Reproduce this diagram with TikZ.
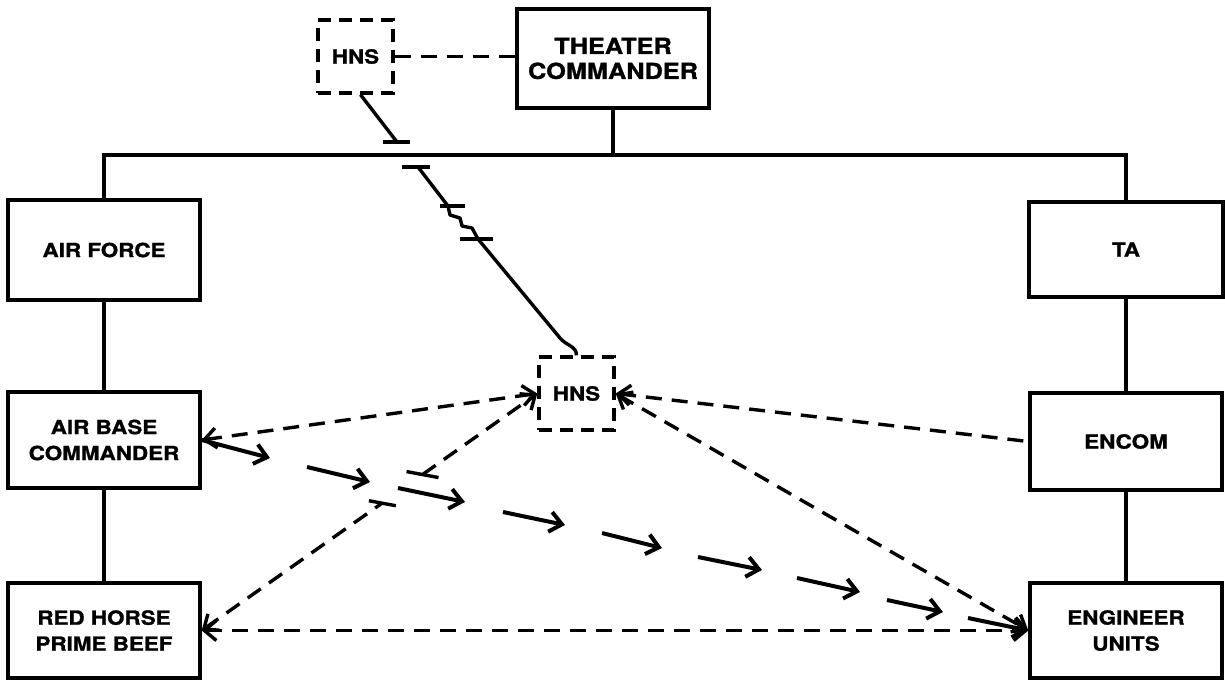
\documentclass[tikz,border=0pt]{standalone}
\usepackage{fontspec}
\newfontfamily\lab[FakeStretch=1.15,FakeBold=1.2]{TeX Gyre Heros}
\usetikzlibrary{arrows.meta,calc}
\begin{document}
\begin{tikzpicture}[x=1pt,y=-1pt,
  >={Straight Barb[length=12pt,width=20pt]},
  box/.style={draw,line width=3.4pt,minimum width=192pt,minimum height=96pt,
    align=center,inner sep=0pt,font=\lab\bfseries\fontsize{19.5}{26}\selectfont},
  hns/.style={box,dash pattern=on 13pt off 8pt,minimum width=75pt,minimum height=73pt},
  link/.style={line width=3.4pt},
  dline/.style={line width=3.4pt,dash pattern=on 16pt off 10pt},
  flow/.style={line width=4pt,->},
]
\useasboundingbox (0,0) rectangle (1225,680);

% nodes
\node[box,minimum height=99pt,font=\lab\bfseries\fontsize{22}{25}\selectfont] (tc) at (613,58.5) {THEATER\\COMMANDER};
\node[hns] (hnsT) at (355.5,56.5) {HNS};
\node[box,minimum height=100pt] (af) at (104,250) {AIR FORCE};
\node[box] (abc) at (104,440) {AIR BASE\\COMMANDER};
\node[box,minimum height=95pt] (rh) at (104,630.5) {RED HORSE\\PRIME BEEF};
\node[box,minimum width=194pt,minimum height=95pt] (ta) at (1126,249.5) {TA};
\node[box,minimum height=97pt] (encom) at (1126,441.5) {ENCOM};
\node[box,minimum height=95pt] (eu) at (1126,630.5) {ENGINEER\\UNITS};
\node[hns] (hnsC) at (576.5,393.5) {HNS};

% command bus
\coordinate (busL) at (104,155);
\coordinate (busR) at (1126,155);
\draw[link] (af.north) -- (busL) -- (busR) -- (ta.north);
\draw[link] (tc.south) -- (tc.south |- busL);
\draw[link] (af.south) -- (abc.north);
\draw[link] (abc.south) -- (rh.north);
\draw[link] (ta.south) -- (encom.north);
\draw[link] (encom.south) -- (eu.north);

% top HNS
\draw[dline] (hnsT.east) -- (hnsT.east -| tc.west);
\coordinate (t1) at (397,142);
\draw[link] ([xshift=5pt]hnsT.south) -- (t1);
\draw[link] ($(t1)+(-14,0)$) -- ($(t1)+(13,0)$);

% line from bus to central HNS with zigzag
\coordinate (t2) at (418,167);
\draw[link] ($(t2)+(-16,0)$) -- ($(t2)+(12,0)$);
\draw[link,line join=round] (t2) -- (448,206) -- (450,215) -- (460,218) -- (462,226)
  -- (472,228) -- (478,239) -- (560,338) to[out=-52,in=90] (hnsC.north);
\draw[link] (440,206) -- (465,206);
\draw[link] (460,239) -- (493,239);

% dashed links
\draw[dline,<->] (abc.east) -- (hnsC.west);
\coordinate (x1) at ($(rh.east)!0.537!(hnsC.west)$);
\coordinate (x2) at ($(rh.east)!0.658!(hnsC.west)$);
\draw[dline,<-] (rh.east) -- (x1);
\draw[dline,->] (x2) -- (hnsC.west);
\draw[link] ($(x1)+(-13,-2.5)$) -- ($(x1)+(14,2.5)$);
\draw[link] ($(x2)+(-16,-3)$) -- ($(x2)+(16,3)$);
\draw[dline,<->] (rh.east) -- (eu.west);
\draw[dline,<->] (hnsC.east) -- (eu.west);
\draw[dline,<-] (hnsC.east) -- (encom.west);

% flow arrows
\coordinate (f1) at (270,458);
\coordinate (f9) at (968,618);
\draw[flow] (abc.east) -- (f1);
\foreach \i/\a/\b/\c/\d in {2/307/467/370/482, 3/398/488/465/502, 4/503/512/565/525,
  5/602/533/662/548, 6/698/557/762/570, 7/797/578/860/592, 8/887/600/943/612}{
  \coordinate (fs\i) at (\a,\b);
  \coordinate (fe\i) at (\c,\d);
  \draw[flow] (fs\i) -- (fe\i);
}
\draw[flow] (f9) -- (eu.west);
\end{tikzpicture}
\end{document}
